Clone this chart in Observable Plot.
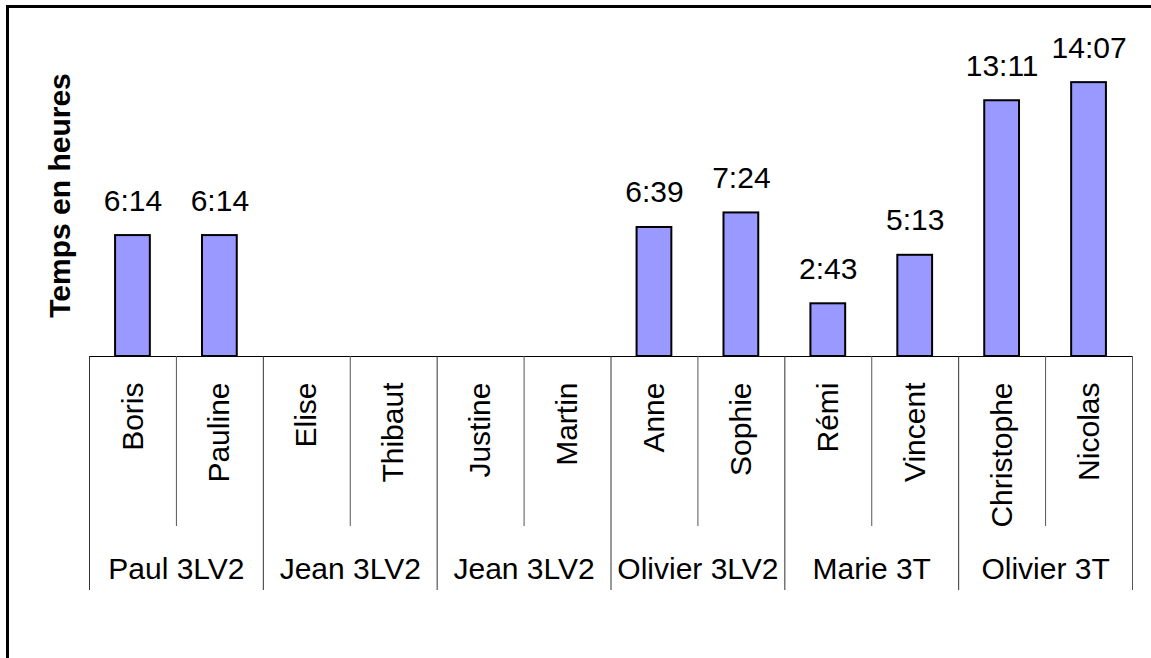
<!DOCTYPE html>
<html>
<head>
<meta charset="utf-8">
<script src="https://cdn.jsdelivr.net/npm/d3@7"></script>
<script src="https://cdn.jsdelivr.net/npm/@observablehq/plot@0.6"></script>
<style>
  html, body { margin: 0; padding: 0; background: #fff; overflow: hidden; width: 1151px; height: 658px; }
  #wrap { position: relative; width: 1151px; height: 658px; }
  #border { position: absolute; left: 6px; top: 5px; width: 1300px; height: 800px;
            border-left: 3px solid #000; border-top: 3px solid #000; box-sizing: border-box; }
  #chart { position: absolute; left: 0; top: 0; }
</style>
</head>
<body>
<div id="wrap"><div id="chart"></div><div id="border"></div></div>
<script>
const students = ["Boris","Pauline","Elise","Thibaut","Justine","Martin","Anne","Sophie","Rémi","Vincent","Christophe","Nicolas"];
const groups = ["Paul 3LV2","Jean 3LV2","Jean 3LV2","Olivier 3LV2","Marie 3T","Olivier 3T"];
const times = ["6:14","6:14",null,null,null,null,"6:39","7:24","2:43","5:13","13:11","14:07"];
const yTitle = "Temps en heures";

const toHours = s => { const [h, m] = s.split(":").map(Number); return h + m / 60; };
const bars = students.map((name, i) => ({name, label: times[i], hours: times[i] ? toHours(times[i]) : null}))
  .filter(d => d.label !== null);

const W = 1151, H = 658;
const mL = 89, mR = 19, mT = 65, mB = 302;
const step = (W - mL - mR) / students.length;
const half = step / 2;
const plotH = H - mT - mB;
const font = "Liberation Sans, Arial, sans-serif";

const innerBounds = students.filter((d, i) => i % 2 === 1);
const groupLeftBounds = students.filter((d, i) => i % 2 === 0);
const lastStudent = [students[students.length - 1]];
const groupData = groups.map((g, i) => ({g, at: students[2 * i + 1]}));

const chart = Plot.plot({
  width: W, height: H,
  marginLeft: mL, marginRight: mR, marginTop: mT, marginBottom: mB,
  style: {fontFamily: font, background: "transparent", overflow: "visible"},
  x: {type: "band", domain: students, paddingInner: 0.6, paddingOuter: 0.3, round: false, axis: null},
  y: {domain: [0, 15], axis: null},
  marks: [
    Plot.barY(bars, {x: "name", y: "hours", fill: "#9999FF", stroke: "#000", strokeWidth: 2}),
    Plot.ruleY([0], {stroke: "#000", strokeWidth: 1.2}),
    Plot.ruleX(innerBounds, {x: d => d, dx: -half, insetTop: plotH, insetBottom: -170, stroke: "#555", strokeWidth: 1}),
    Plot.ruleX(groupLeftBounds, {x: d => d, dx: -half, insetTop: plotH, insetBottom: -234, stroke: "#333", strokeWidth: 1}),
    Plot.ruleX(lastStudent, {x: d => d, dx: half, insetTop: plotH, insetBottom: -234, stroke: "#555", strokeWidth: 1}),
    Plot.text(bars, {x: "name", y: "hours", text: "label", dy: -25, lineAnchor: "bottom", fontSize: 30, fill: "#000"}),
    Plot.text(students, {x: d => d, text: d => d, frameAnchor: "bottom", dy: 26, rotate: -90, textAnchor: "end", lineAnchor: "middle", fontSize: 30, fill: "#000"}),
    Plot.text(groupData, {x: "at", text: "g", dx: -half, frameAnchor: "bottom", dy: 222, lineAnchor: "bottom", fontSize: 30, fill: "#000"}),
    Plot.text([yTitle], {text: d => d, frameAnchor: "left", dx: -20, dy: -15.5, rotate: -90, textAnchor: "middle", lineAnchor: "bottom", fontSize: 30, fontWeight: "bold", fill: "#000"})
  ]
});
document.getElementById("chart").appendChild(chart);
</script>
</body>
</html>
